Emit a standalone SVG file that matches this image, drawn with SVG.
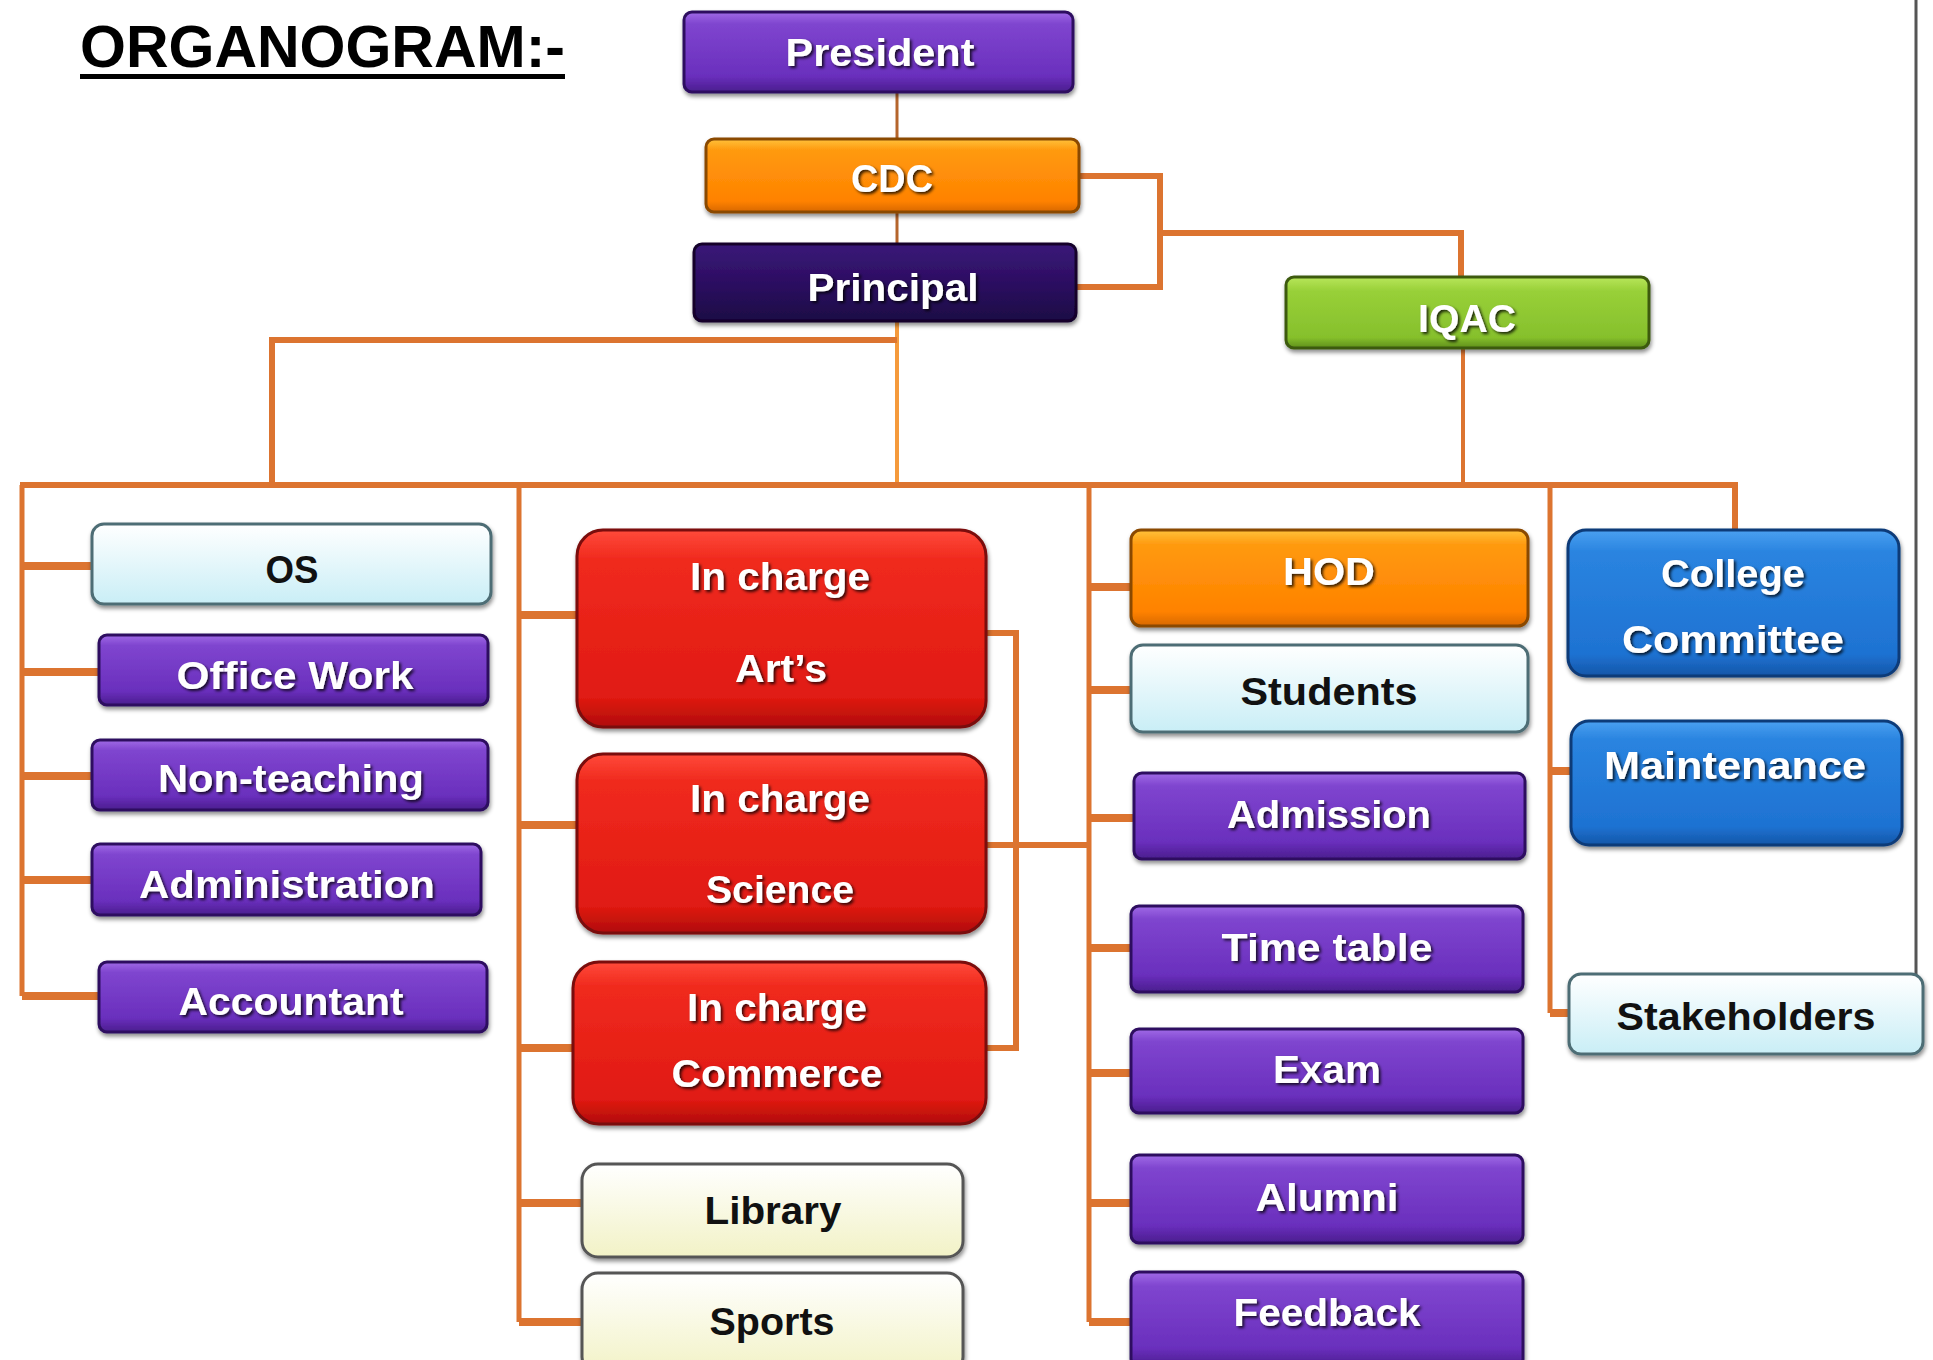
<svg xmlns="http://www.w3.org/2000/svg" width="1933" height="1360" viewBox="0 0 1933 1360">
<defs>
<linearGradient id="gPurple" x1="0" y1="0" x2="0" y2="1"><stop offset="0" stop-color="#a06ae6"/><stop offset="0.15" stop-color="#7f45cf"/><stop offset="0.8" stop-color="#6a2fbd"/><stop offset="1" stop-color="#4a1d8e"/></linearGradient>
<linearGradient id="gOrange" x1="0" y1="0" x2="0" y2="1"><stop offset="0" stop-color="#ffc23a"/><stop offset="0.15" stop-color="#ff9a10"/><stop offset="0.85" stop-color="#ff8200"/><stop offset="1" stop-color="#d86800"/></linearGradient>
<linearGradient id="gNavy" x1="0" y1="0" x2="0" y2="1"><stop offset="0" stop-color="#3a1878"/><stop offset="0.5" stop-color="#2c0e62"/><stop offset="1" stop-color="#1c0745"/></linearGradient>
<linearGradient id="gGreen" x1="0" y1="0" x2="0" y2="1"><stop offset="0" stop-color="#b8e65a"/><stop offset="0.2" stop-color="#98d038"/><stop offset="0.85" stop-color="#86c02c"/><stop offset="1" stop-color="#5f8f1a"/></linearGradient>
<linearGradient id="gRed" x1="0" y1="0" x2="0" y2="1"><stop offset="0" stop-color="#ff4a3a"/><stop offset="0.15" stop-color="#f02a1e"/><stop offset="0.85" stop-color="#e01a12"/><stop offset="1" stop-color="#b00c08"/></linearGradient>
<linearGradient id="gBlue" x1="0" y1="0" x2="0" y2="1"><stop offset="0" stop-color="#4aa0f0"/><stop offset="0.15" stop-color="#2a84e0"/><stop offset="0.85" stop-color="#1e72d2"/><stop offset="1" stop-color="#1456a8"/></linearGradient>
<linearGradient id="gCyan" x1="0" y1="0" x2="0" y2="1"><stop offset="0" stop-color="#ffffff"/><stop offset="1" stop-color="#c9eef6"/></linearGradient>
<linearGradient id="gCream" x1="0" y1="0" x2="0" y2="1"><stop offset="0" stop-color="#ffffff"/><stop offset="1" stop-color="#f2f2c6"/></linearGradient>
<filter id="shadow" x="-10%" y="-10%" width="120%" height="130%"><feDropShadow dx="1" dy="3" stdDeviation="2" flood-color="#000" flood-opacity="0.45"/></filter>
<filter id="tshadow" x="-10%" y="-20%" width="120%" height="150%"><feDropShadow dx="2" dy="2" stdDeviation="1.5" flood-color="#000" flood-opacity="0.8"/></filter>
<style>
.box{stroke-width:3;filter:url(#shadow)}
.purple{fill:url(#gPurple);stroke:#2d1060}
.orange{fill:url(#gOrange);stroke:#8a4800}
.navy{fill:url(#gNavy);stroke:#12042c}
.green{fill:url(#gGreen);stroke:#3c5a10}
.red{fill:url(#gRed);stroke:#7a0a08}
.blue{fill:url(#gBlue);stroke:#0c3a78}
.cyan{fill:url(#gCyan);stroke:#4e6d74}
.cream{fill:url(#gCream);stroke:#555}
text{font-family:"Liberation Sans","Open Sans",Arial,sans-serif;font-weight:bold;text-anchor:middle}
.wt{fill:#fff;font-size:38px;filter:url(#tshadow)}
.bt{fill:#111;font-size:38px}
.conn path{fill:none;stroke:#dc7430;stroke-width:6;stroke-linejoin:miter}
.conn .stub{stroke-width:8}
</style>
</defs>
<rect width="1933" height="1360" fill="#fff"/>
<line x1="1916" y1="0" x2="1916" y2="975" stroke="#555" stroke-width="3"/>
<g id="title">
<text x="80" y="67" style="text-anchor:start;font-size:60px;fill:#000" textLength="485" lengthAdjust="spacingAndGlyphs">ORGANOGRAM:-</text>
<rect x="80" y="74" width="485" height="5" fill="#000"/>
</g>
<g id="connectors" class="conn">
<path d="M897 92 V244" style="stroke:#b5652c;stroke-width:3"/>
<path d="M897 321 V485" style="stroke:#f59a3c;stroke-width:4"/>
<path d="M272 485 V340 H897"/>
<path d="M1079 176 H1160 V287 H1076"/>
<path d="M1160 233 H1461 V277"/>
<path d="M1463 348 V485" style="stroke-width:4"/>
<path d="M20 485 H1735 V529"/>
<path d="M22 485 V996" style="stroke-width:5"/>
<path d="M519 485 V1322" style="stroke-width:5"/>
<path d="M1089 485 V1322" style="stroke-width:5"/>
<path d="M1550 485 V1013" style="stroke-width:5"/>
<path class="stub" d="M22 566 H92 M22 672 H99 M22 776 H92 M22 880 H92 M22 996 H99"/>
<path class="stub" d="M519 615 H577 M519 825 H577 M519 1048 H573 M519 1203 H582 M519 1322 H582"/>
<path d="M986 633 H1016 V1048 H986"/>
<path d="M986 845 H1089"/>
<path class="stub" d="M1089 587 H1131 M1089 690 H1131 M1089 818 H1134 M1089 948 H1131 M1089 1073 H1131 M1089 1203 H1131 M1089 1322 H1131"/>
<path class="stub" d="M1550 771 H1571 M1550 1013 H1569"/>
</g>
<g id="president"><rect class="box purple" x="684" y="12" width="389" height="80" rx="8"/><text class="wt" x="880" y="66" textLength="189" lengthAdjust="spacingAndGlyphs">President</text></g>
<g id="cdc"><rect class="box orange" x="706" y="139" width="373" height="73" rx="8"/><text class="wt" x="892" y="192" textLength="82" lengthAdjust="spacingAndGlyphs">CDC</text></g>
<g id="principal"><rect class="box navy" x="694" y="244" width="382" height="77" rx="8"/><text class="wt" x="893" y="301" textLength="171" lengthAdjust="spacingAndGlyphs">Principal</text></g>
<g id="iqac"><rect class="box green" x="1286" y="277" width="363" height="71" rx="8"/><text class="wt" x="1467" y="332" textLength="98" lengthAdjust="spacingAndGlyphs">IQAC</text></g>
<g id="os"><rect class="box cyan" x="92" y="524" width="399" height="80" rx="12"/><text class="bt" x="292" y="583" textLength="53" lengthAdjust="spacingAndGlyphs">OS</text></g>
<g id="office-work"><rect class="box purple" x="99" y="635" width="389" height="70" rx="8"/><text class="wt" x="295" y="689" textLength="237" lengthAdjust="spacingAndGlyphs">Office Work</text></g>
<g id="non-teaching"><rect class="box purple" x="92" y="740" width="396" height="70" rx="8"/><text class="wt" x="291" y="792" textLength="266" lengthAdjust="spacingAndGlyphs">Non-teaching</text></g>
<g id="administration"><rect class="box purple" x="92" y="844" width="389" height="71" rx="8"/><text class="wt" x="287" y="898" textLength="296" lengthAdjust="spacingAndGlyphs">Administration</text></g>
<g id="accountant"><rect class="box purple" x="99" y="962" width="388" height="70" rx="8"/><text class="wt" x="291" y="1015" textLength="225" lengthAdjust="spacingAndGlyphs">Accountant</text></g>
<g id="incharge-arts"><rect class="box red" x="577" y="530" width="409" height="197" rx="26"/><text class="wt" x="780" y="590" textLength="180" lengthAdjust="spacingAndGlyphs">In charge</text><text class="wt" x="781" y="682" textLength="92" lengthAdjust="spacingAndGlyphs">Art’s</text></g>
<g id="incharge-science"><rect class="box red" x="577" y="754" width="409" height="179" rx="26"/><text class="wt" x="780" y="812" textLength="180" lengthAdjust="spacingAndGlyphs">In charge</text><text class="wt" x="780" y="903" textLength="148" lengthAdjust="spacingAndGlyphs">Science</text></g>
<g id="incharge-commerce"><rect class="box red" x="573" y="962" width="413" height="162" rx="26"/><text class="wt" x="777" y="1021" textLength="180" lengthAdjust="spacingAndGlyphs">In charge</text><text class="wt" x="777" y="1087" textLength="211" lengthAdjust="spacingAndGlyphs">Commerce</text></g>
<g id="library"><rect class="box cream" x="582" y="1164" width="381" height="93" rx="16"/><text class="bt" x="773" y="1224" textLength="137" lengthAdjust="spacingAndGlyphs">Library</text></g>
<g id="sports"><rect class="box cream" x="582" y="1273" width="381" height="100" rx="16"/><text class="bt" x="772" y="1335" textLength="125" lengthAdjust="spacingAndGlyphs">Sports</text></g>
<g id="hod"><rect class="box orange" x="1131" y="530" width="397" height="96" rx="10"/><text class="wt" x="1329" y="585" textLength="92" lengthAdjust="spacingAndGlyphs">HOD</text></g>
<g id="students"><rect class="box cyan" x="1131" y="645" width="397" height="87" rx="12"/><text class="bt" x="1329" y="705" textLength="177" lengthAdjust="spacingAndGlyphs">Students</text></g>
<g id="admission"><rect class="box purple" x="1134" y="773" width="391" height="86" rx="8"/><text class="wt" x="1329" y="828" textLength="204" lengthAdjust="spacingAndGlyphs">Admission</text></g>
<g id="time-table"><rect class="box purple" x="1131" y="906" width="392" height="86" rx="8"/><text class="wt" x="1327" y="961" textLength="211" lengthAdjust="spacingAndGlyphs">Time table</text></g>
<g id="exam"><rect class="box purple" x="1131" y="1029" width="392" height="84" rx="8"/><text class="wt" x="1327" y="1083" textLength="108" lengthAdjust="spacingAndGlyphs">Exam</text></g>
<g id="alumni"><rect class="box purple" x="1131" y="1155" width="392" height="88" rx="8"/><text class="wt" x="1327" y="1211" textLength="143" lengthAdjust="spacingAndGlyphs">Alumni</text></g>
<g id="feedback"><rect class="box purple" x="1131" y="1272" width="392" height="95" rx="8"/><text class="wt" x="1327" y="1326" textLength="187" lengthAdjust="spacingAndGlyphs">Feedback</text></g>
<g id="college-committee"><rect class="box blue" x="1568" y="530" width="331" height="146" rx="18"/><text class="wt" x="1733" y="587" textLength="144" lengthAdjust="spacingAndGlyphs">College</text><text class="wt" x="1733" y="653" textLength="222" lengthAdjust="spacingAndGlyphs">Committee</text></g>
<g id="maintenance"><rect class="box blue" x="1571" y="721" width="331" height="124" rx="18"/><text class="wt" x="1735" y="779" textLength="262" lengthAdjust="spacingAndGlyphs">Maintenance</text></g>
<g id="stakeholders"><rect class="box cyan" x="1569" y="974" width="354" height="80" rx="12"/><text class="bt" x="1746" y="1030" textLength="259" lengthAdjust="spacingAndGlyphs">Stakeholders</text></g>
</svg>
